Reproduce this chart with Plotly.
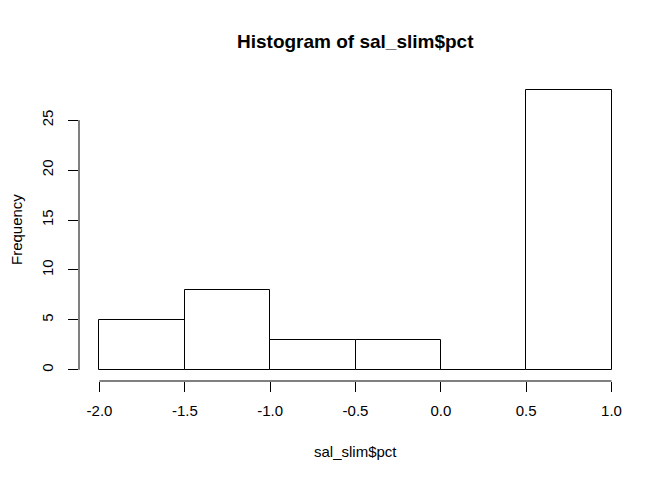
import plotly.graph_objects as go

# histogram of sal_slim$pct (R base graphics style)
bin_edges = [-2.0, -1.5, -1.0, -0.5, 0.0, 0.5, 1.0]
counts = [5, 8, 3, 3, 0, 28]
x_ticks = [-2.0, -1.5, -1.0, -0.5, 0.0, 0.5, 1.0]
x_labels = ["-2.0", "-1.5", "-1.0", "-0.5", "0.0", "0.5", "1.0"]
y_ticks = [0, 5, 10, 15, 20, 25]

mids = [(a + b) / 2 for a, b in zip(bin_edges[:-1], bin_edges[1:])]
widths = [b - a for a, b in zip(bin_edges[:-1], bin_edges[1:])]

font = "Liberation Sans, Arial, sans-serif"

fig = go.Figure()
fig.add_trace(go.Bar(
    x=mids, y=counts, width=widths,
    marker=dict(color="white", line=dict(color="black", width=1)),
    hoverinfo="x+y",
))

# R-style extended ranges (4% each side)
xr = [bin_edges[0] - 0.04 * (bin_edges[-1] - bin_edges[0]),
      bin_edges[-1] + 0.04 * (bin_edges[-1] - bin_edges[0])]
ymax = max(counts)
yr = [-0.04 * ymax, ymax * 1.04]

# page body adds ~8px offset, margins compensate
fig.update_layout(
    width=672, height=480,
    margin=dict(l=71, r=48, t=71, b=107),
    paper_bgcolor="white", plot_bgcolor="white",
    showlegend=False, bargap=0,
    font=dict(family=font, size=15, color="black"),
    xaxis=dict(range=xr, tickvals=x_ticks, ticktext=x_labels, ticks="outside",
               ticklen=10, tickcolor="black", showgrid=False, zeroline=False,
               showline=False, ticklabelstandoff=6, automargin=False),
    yaxis=dict(range=yr, tickvals=y_ticks, ticks="outside", ticklen=10,
               tickcolor="black", tickangle=-90, showgrid=False, zeroline=False,
               showline=False, ticklabelstandoff=9, automargin=False),
    shapes=[
        dict(type="line", xref="x", yref="paper", x0=x_ticks[0], x1=x_ticks[-1],
             y0=0, y1=0, line=dict(color="black", width=1)),
        dict(type="line", xref="paper", yref="y", x0=0, x1=0,
             y0=y_ticks[0], y1=y_ticks[-1], line=dict(color="black", width=1)),
    ],
    annotations=[
        dict(text="<b>Histogram of sal_slim$pct</b>", x=0.5, y=1, xref="paper",
             yref="paper", yanchor="middle", yshift=38, showarrow=False,
             font=dict(size=19)),
        dict(text="sal_slim$pct", x=0.5, y=0, xref="paper", yref="paper",
             yanchor="middle", yshift=-70, showarrow=False, font=dict(size=15)),
        dict(text="Frequency", x=0, y=0.5, xref="paper", yref="paper",
             xanchor="center", xshift=-63, textangle=-90, showarrow=False,
             font=dict(size=15)),
    ],
)

fig.write_html("out.html")
